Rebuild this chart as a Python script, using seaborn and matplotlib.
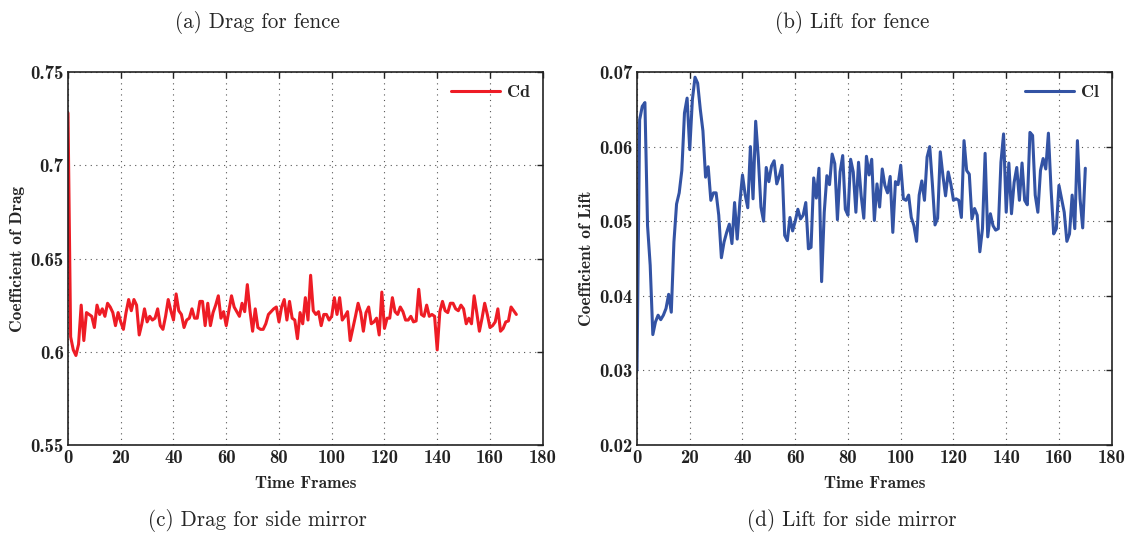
import matplotlib
matplotlib.use("Agg")
import matplotlib.pyplot as plt
import numpy as np
import pandas as pd
import seaborn as sns

frames = list(range(171))

drag = [0.728, 0.608, 0.601, 0.598, 0.604, 0.625, 0.606, 0.621, 0.620, 0.619,
        0.613, 0.625, 0.620, 0.623, 0.619, 0.626, 0.624, 0.621, 0.614, 0.621,
        0.616, 0.612, 0.621, 0.628, 0.622, 0.628, 0.625, 0.609, 0.615, 0.623,
        0.616, 0.619, 0.617, 0.618, 0.623, 0.614, 0.612, 0.619, 0.628, 0.622,
        0.617, 0.631, 0.622, 0.620, 0.613, 0.617, 0.618, 0.623, 0.618, 0.618,
        0.627, 0.627, 0.614, 0.626, 0.614, 0.621, 0.625, 0.630, 0.618, 0.6215,
        0.614, 0.622, 0.630, 0.624, 0.6215, 0.619, 0.626, 0.6215, 0.636, 0.622,
        0.611, 0.623, 0.613, 0.612, 0.612, 0.615, 0.620, 0.6215, 0.623, 0.624,
        0.616, 0.624, 0.628, 0.617, 0.627, 0.618, 0.617, 0.607, 0.621, 0.615,
        0.629, 0.617, 0.641, 0.622, 0.620, 0.6215, 0.614, 0.620, 0.620, 0.617,
        0.619, 0.629, 0.620, 0.629, 0.617, 0.619, 0.6215, 0.606, 0.6125, 0.619,
        0.626, 0.621, 0.611, 0.621, 0.624, 0.615, 0.616, 0.618, 0.609, 0.632,
        0.6125, 0.618, 0.618, 0.629, 0.6215, 0.620, 0.624, 0.6215, 0.617, 0.617,
        0.619, 0.616, 0.6165, 0.6335, 0.620, 0.619, 0.625, 0.619, 0.620, 0.619,
        0.601, 0.6215, 0.627, 0.622, 0.621, 0.626, 0.626, 0.623, 0.622, 0.625,
        0.623, 0.615, 0.618, 0.615, 0.630, 0.621, 0.611, 0.618, 0.626, 0.620,
        0.613, 0.614, 0.616, 0.623, 0.611, 0.6125, 0.616, 0.6165, 0.624, 0.622,
        0.620]

lift = [0.0300, 0.0636, 0.0654, 0.0659, 0.0494, 0.0441, 0.0348, 0.0365, 0.0374, 0.0368,
        0.0374, 0.0383, 0.0402, 0.0378, 0.0472, 0.0523, 0.0538, 0.0568, 0.0645, 0.0665,
        0.0596, 0.0663, 0.0693, 0.0685, 0.0650, 0.0621, 0.0559, 0.0573, 0.0528, 0.0538,
        0.0538, 0.0508, 0.0451, 0.0472, 0.0485, 0.0496, 0.0470, 0.0525, 0.0476, 0.0525,
        0.0562, 0.0536, 0.0518, 0.0600, 0.0530, 0.0634, 0.0585, 0.0519, 0.0500, 0.0572,
        0.0553, 0.0574, 0.0581, 0.0550, 0.0561, 0.0575, 0.0481, 0.0474, 0.0505, 0.0487,
        0.0500, 0.0516, 0.0503, 0.0508, 0.0525, 0.0463, 0.0465, 0.0558, 0.0531, 0.0571,
        0.0419, 0.0512, 0.0561, 0.0549, 0.0590, 0.0577, 0.0502, 0.0566, 0.0588, 0.0516,
        0.0508, 0.0583, 0.0566, 0.0512, 0.0579, 0.0534, 0.0504, 0.0587, 0.0562, 0.0583,
        0.0501, 0.0550, 0.0519, 0.0570, 0.0548, 0.0538, 0.0560, 0.0485, 0.0553, 0.0549,
        0.0575, 0.0530, 0.0528, 0.0535, 0.0505, 0.0494, 0.0473, 0.0535, 0.0554, 0.0528,
        0.0586, 0.0600, 0.0550, 0.0495, 0.0504, 0.0593, 0.0561, 0.0534, 0.0566, 0.0550,
        0.0528, 0.0530, 0.0528, 0.0505, 0.0608, 0.0568, 0.0563, 0.0503, 0.0517, 0.0508,
        0.0459, 0.0490, 0.0591, 0.0479, 0.0510, 0.0494, 0.0488, 0.0490, 0.0579, 0.0617,
        0.0512, 0.0578, 0.0510, 0.0552, 0.0572, 0.0528, 0.0578, 0.0528, 0.0522, 0.0619,
        0.0615, 0.0535, 0.0512, 0.0568, 0.0584, 0.0570, 0.0618, 0.0543, 0.0483, 0.0490,
        0.0548, 0.0530, 0.0512, 0.0473, 0.0483, 0.0535, 0.0490, 0.0608, 0.0530, 0.0491,
        0.0571]

drag_yticks = [0.55, 0.6, 0.65, 0.7, 0.75]
drag_yticklabels = ["0.55", "0.6", "0.65", "0.7", "0.75"]
lift_yticks = [0.02, 0.03, 0.04, 0.05, 0.06, 0.07]
lift_yticklabels = ["0.02", "0.03", "0.04", "0.05", "0.06", "0.07"]
xticks = [0, 20, 40, 60, 80, 100, 120, 140, 160, 180]

captions = ["(a) Drag for fence", "(b) Lift for fence",
            "(c) Drag for side mirror", "(d) Lift for side mirror"]

sns.set_style("white")
plt.rcParams["font.family"] = ["cmr10", "DejaVu Serif"]
plt.rcParams["axes.formatter.use_mathtext"] = True

W, H = 1131, 538
fig = plt.figure(figsize=(W / 100, H / 100), dpi=100)

def px_axes(x0, y0, x1, y1):
    return fig.add_axes([x0 / W, 1 - y1 / H, (x1 - x0) / W, (y1 - y0) / H])

ax1 = px_axes(68, 72, 542.7, 445)
ax2 = px_axes(637, 72, 1111.7, 445)

df_d = pd.DataFrame({"Time Frames": frames, "Cd": drag})
df_l = pd.DataFrame({"Time Frames": frames, "Cl": lift})

sns.lineplot(data=df_d, x="Time Frames", y="Cd", ax=ax1, color="#ee1c25",
             linewidth=2.2, label="Cd")
sns.lineplot(data=df_l, x="Time Frames", y="Cl", ax=ax2, color="#3353a4",
             linewidth=2.2, label="Cl")

tickfont = {"family": ["cmb10", "DejaVu Serif"], "size": 13.5}
labfont = {"family": ["cmb10", "DejaVu Serif"], "size": 12.5}

for ax, yt, ytl, ylab, ylim in [
    (ax1, drag_yticks, drag_yticklabels, "Coefficient of Drag", (0.55, 0.75)),
    (ax2, lift_yticks, lift_yticklabels, "Coefficient of Lift", (0.02, 0.07)),
]:
    ax.set_xlim(0, 180)
    ax.set_ylim(*ylim)
    ax.set_xticks(xticks)
    ax.set_xticklabels([str(v) for v in xticks], fontdict=tickfont)
    ax.set_yticks(yt)
    ax.set_yticklabels(ytl, fontdict=tickfont)
    ax.set_xlabel("Time Frames", fontdict=labfont, labelpad=6)
    ax.set_ylabel(ylab, fontdict=labfont, labelpad=4)
    ax.grid(True, linestyle=(0, (1, 4)), color="#555555", linewidth=0.8)
    ax.tick_params(direction="in", length=4, width=1, top=True, right=True,
                   pad=3, colors="#222222")
    for s in ax.spines.values():
        s.set_visible(True)
        s.set_color("#222222")
        s.set_linewidth(1.2)
    ax.legend(loc="upper right", frameon=False, handlelength=2.7,
              handletextpad=0.4, borderaxespad=0.3,
              prop={"family": ["cmb10", "DejaVu Serif"], "size": 13})

cap_kw = dict(ha="center", va="center", fontsize=15.2,
              family=["cmr10", "DejaVu Serif"])
fig.text(257 / W, 1 - 22 / H, captions[0], **cap_kw)
fig.text(852 / W, 1 - 22 / H, captions[1], **cap_kw)
fig.text(257 / W, 1 - 520 / H, captions[2], **cap_kw)
fig.text(852 / W, 1 - 520 / H, captions[3], **cap_kw)

fig.savefig("out.png", dpi=100)
